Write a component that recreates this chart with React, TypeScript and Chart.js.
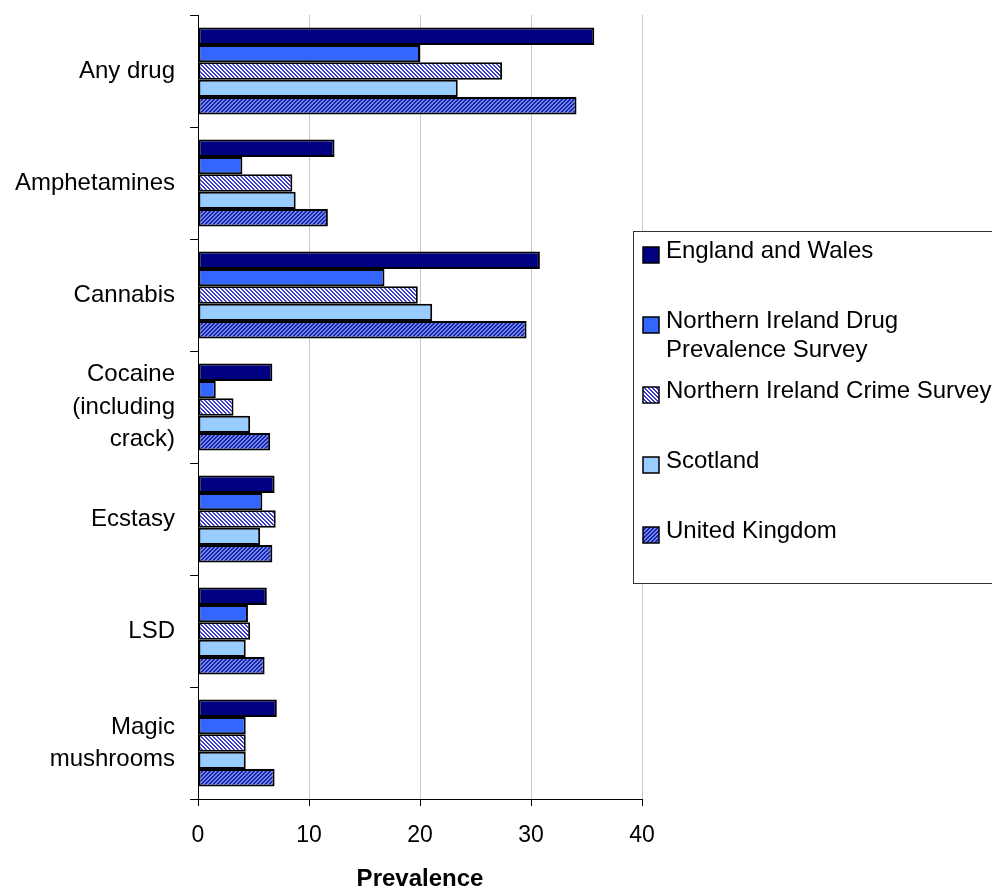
import React, { useEffect, useRef } from 'react';
import { Chart, registerables } from 'chart.js';

Chart.register(...registerables);

const FONT = "'Liberation Sans', Arial, sans-serif";

const categories: (string | string[])[] = [
  'Any drug',
  'Amphetamines',
  'Cannabis',
  ['Cocaine', '(including', 'crack)'],
  'Ecstasy',
  'LSD',
  ['Magic', 'mushrooms'],
];

const seriesNames = [
  'England and Wales',
  'Northern Ireland Drug Prevalence Survey',
  'Northern Ireland Crime Survey',
  'Scotland',
  'United Kingdom',
];

const legendLines = [
  ['England and Wales'],
  ['Northern Ireland Drug', 'Prevalence Survey'],
  ['Northern Ireland Crime Survey'],
  ['Scotland'],
  ['United Kingdom'],
];

const englandWales = [35.7, 12.3, 30.8, 6.7, 6.9, 6.2, 7.1];
const niDrugSurvey = [20.0, 4.0, 16.8, 1.6, 5.8, 4.5, 4.3];
const niCrimeSurvey = [27.4, 8.5, 19.8, 3.2, 7.0, 4.7, 4.3];
const scotland = [23.4, 8.8, 21.1, 4.7, 5.6, 4.3, 4.3];
const unitedKingdom = [34.1, 11.7, 29.6, 6.5, 6.7, 6.0, 6.9];

const xTicks = [0, 10, 20, 30, 40];

function makePattern(a: string, b: string, dir: 'down' | 'up'): CanvasPattern | string {
  const c = document.createElement('canvas');
  c.width = 4;
  c.height = 4;
  const g = c.getContext('2d');
  if (!g) return a;
  for (let x = 0; x < 4; x++) {
    for (let y = 0; y < 4; y++) {
      const k = dir === 'down' ? (x - y + 8) % 4 : (x + y) % 4;
      g.fillStyle = k < 2 ? a : b;
      g.fillRect(x, y, 1, 1);
    }
  }
  const p = g.createPattern(c, 'repeat');
  return p || a;
}

export default function App() {
  const ref = useRef<HTMLCanvasElement | null>(null);

  useEffect(() => {
    const canvas = ref.current;
    if (!canvas) return;

    const nicsPattern = makePattern('#3a3ad0', '#ffffff', 'down');
    const ukPattern = makePattern('#1c2496', '#6a86ff', 'up');
    const fills: (string | CanvasPattern)[] = ['#000080', '#3366ff', nicsPattern, '#99ccff', ukPattern];
    const values = [englandWales, niDrugSurvey, niCrimeSurvey, scotland, unitedKingdom];

    const legendPlugin = {
      id: 'customLegend',
      afterDraw(chart: any) {
        const ctx = chart.ctx as CanvasRenderingContext2D;
        ctx.save();
        ctx.fillStyle = '#ffffff';
        ctx.fillRect(633.5, 231.5, 400, 352);
        ctx.strokeStyle = '#333333';
        ctx.lineWidth = 1;
        ctx.strokeRect(633.5, 231.5, 400, 352);
        ctx.font = `24px ${FONT}`;
        ctx.textBaseline = 'middle';
        ctx.textAlign = 'left';
        legendLines.forEach((lines, i) => {
          const cy = 251 + i * 70;
          ctx.fillStyle = fills[i] as any;
          ctx.fillRect(643, cy - 4, 16, 16);
          ctx.strokeStyle = '#000000';
          ctx.lineWidth = 1.5;
          ctx.strokeRect(643, cy - 4, 16, 16);
          ctx.fillStyle = '#000000';
          lines.forEach((t, j) => {
            ctx.fillText(t, 666, cy + j * 29);
          });
        });
        ctx.restore();
      },
    };

    const chart = new Chart(canvas, {
      type: 'bar',
      data: {
        labels: categories as any,
        datasets: seriesNames.map((name, i) => ({
          label: name,
          data: values[i],
          backgroundColor: fills[i] as any,
          borderColor: '#000000',
          borderWidth: 2,
          borderSkipped: false,
          categoryPercentage: 0.775,
          barPercentage: 1.0,
        })),
      },
      options: {
        indexAxis: 'y',
        animation: false,
        responsive: false,
        devicePixelRatio: 1,
        layout: { padding: { top: 15, right: 350, left: 0, bottom: 0 } },
        plugins: {
          legend: { display: false },
          tooltip: { enabled: false },
        },
        scales: {
          x: {
            type: 'linear',
            min: xTicks[0],
            max: xTicks[xTicks.length - 1],
            afterBuildTicks: (scale: any) => {
              scale.ticks = xTicks.map((v) => ({ value: v }));
            },
            afterFit: (scale: any) => {
              scale.height = 90;
              scale.paddingLeft = 0;
              scale.paddingRight = 0;
            },
            grid: {
              color: '#c8c8c8',
              lineWidth: 1,
              tickColor: '#000000',
              tickLength: 7,
              drawTicks: true,
            },
            border: { color: '#000000', width: 1 },
            ticks: {
              color: '#000000',
              font: { family: FONT, size: 23 },
              padding: 16,
            },
            title: {
              display: true,
              text: 'Prevalence',
              color: '#000000',
              font: { family: FONT, size: 24, weight: 'bold', lineHeight: 1 },
              padding: { top: 0, bottom: -2 },
            },
          },
          y: {
            type: 'category',
            afterFit: (scale: any) => {
              scale.width = 198;
              scale.paddingTop = 0;
              scale.paddingBottom = 0;
            },
            grid: {
              offset: true,
              drawOnChartArea: false,
              drawTicks: true,
              tickLength: 8,
              color: '#000000',
              tickColor: '#000000',
            },
            border: { color: '#000000', width: 1 },
            ticks: {
              color: '#000000',
              font: { family: FONT, size: 24, lineHeight: 1.34 },
              padding: 15,
            },
          },
        },
      },
      plugins: [legendPlugin],
    } as any);

    return () => {
      chart.destroy();
    };
  }, []);

  return (
    <div style={{ position: 'absolute', left: 0, top: 0, width: 992, height: 889, background: '#ffffff' }}>
      <canvas ref={ref} width={992} height={889} style={{ display: 'block', width: 992, height: 889 }} />
    </div>
  );
}
